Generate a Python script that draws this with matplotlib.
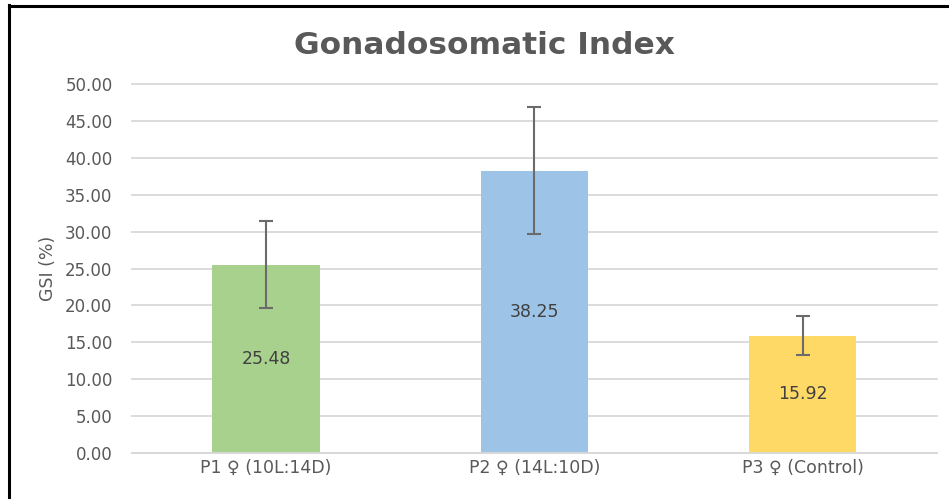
import matplotlib.pyplot as plt
from matplotlib.lines import Line2D

groups = ["P1 \u2640 (10L:14D)", "P2 \u2640 (14L:10D)", "P3 \u2640 (Control)"]
gsi = [25.48, 38.25, 15.92]
err = [5.9, 8.6, 2.7]
colors = ["#A9D18E", "#9DC3E6", "#FFD966"]

txt = "#595959"

fig = plt.figure(figsize=(9.49, 4.99), dpi=100)
W, H = 949.0, 499.0
ax = fig.add_axes([132 / W, 1 - 453 / H, (937 - 132) / W, (453 - 84) / H])

x = range(len(groups))
ax.bar(x, gsi, width=0.4, color=colors, zorder=2)
ax.errorbar(x, gsi, yerr=err, fmt="none", ecolor="#6b6b6b", elinewidth=1.5,
            capsize=5, capthick=1.5, zorder=3)

for i, v in enumerate(gsi):
    ax.text(i, v / 2, "%.2f" % v, ha="center", va="center", fontsize=12.5,
            color="#404040", zorder=4)

ax.set_xlim(-0.5, 2.5)
ax.set_ylim(0, 50)
ax.set_yticks([i * 5 for i in range(11)])
ax.set_yticklabels(["%.2f" % (i * 5) for i in range(11)])
ax.set_xticks(list(x))
ax.set_xticklabels(groups)
ax.tick_params(axis="y", length=0, labelsize=12, labelcolor=txt, pad=14)
ax.tick_params(axis="x", length=0, labelsize=12.5, labelcolor=txt, pad=4)
ax.yaxis.grid(True, color="#D9D9D9", linewidth=1.3, zorder=0)
for gl in ax.get_ygridlines():
    gl.set_clip_on(False)
ax.set_axisbelow(True)
for s in ax.spines.values():
    s.set_visible(False)
ax.spines["bottom"].set_visible(True)
ax.spines["bottom"].set_color("#D9D9D9")
ax.spines["bottom"].set_linewidth(1.3)

ax.set_ylabel("GSI (%)", fontsize=12.5, color=txt, labelpad=6)
fig.text(484 / W, 1 - 45 / H, "Gonadosomatic Index", ha="center", va="center",
         fontsize=22.5, fontweight="bold", color=txt)

# frame of the original image (left and top edges)
fig.add_artist(Line2D([8.5 / W, 8.5 / W], [0, 1 - 5 / H], color="black",
                      linewidth=2.2, transform=fig.transFigure))
fig.add_artist(Line2D([8.5 / W, 1], [1 - 5.5 / H, 1 - 5.5 / H], color="black",
                      linewidth=2.2, transform=fig.transFigure))

fig.savefig("out.png", dpi=100)
